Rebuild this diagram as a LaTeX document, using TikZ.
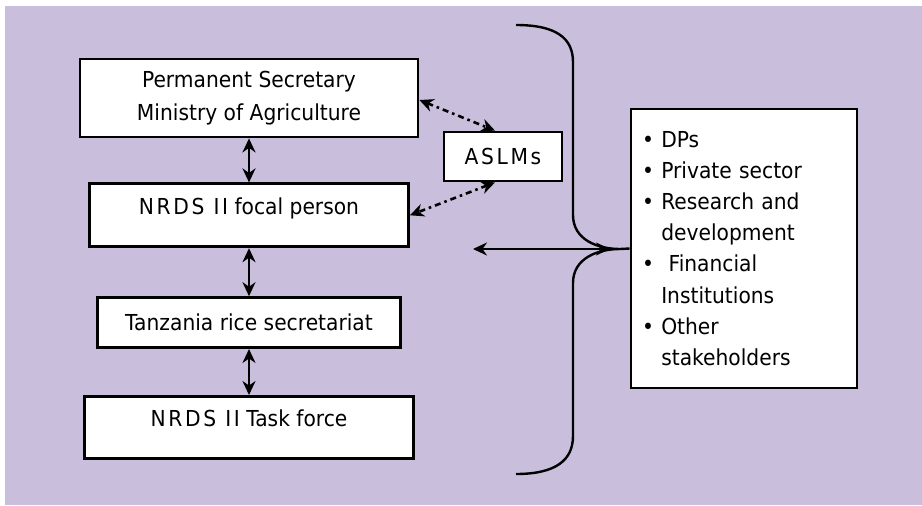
\documentclass[tikz,border=0pt]{standalone}
\usepackage{fontspec}
\setmainfont{DejaVu Sans}[FakeStretch=0.92]
\usetikzlibrary{arrows.meta,positioning}
\definecolor{lavender}{RGB}{201,191,220}
\newcommand{\lspaced}[1]{{\addfontfeature{LetterSpace=12}#1}}

\begin{document}
\begin{tikzpicture}[x=0.5pt,y=-0.5pt,
		font=\fontsize{11}{16.5}\selectfont,
		box/.style={draw,line width=1.4pt,fill=white,inner sep=0pt,align=center},
		lowbox/.style={box,text height=8.5pt,text depth=9pt},
		link/.style={line width=1.3pt,{Stealth[length=7pt,width=6.5pt]}-{Stealth[length=7pt,width=6.5pt]}},
		dotlink/.style={link,dash dot}]

	\useasboundingbox (0,0) rectangle (922,505);
	\fill[lavender] (5,6) rectangle (922,505);

	\node[box,minimum width=169pt,minimum height=39pt](ps) at (249,98) {Permanent Secretary\\Ministry of Agriculture};
	\node[lowbox,minimum width=159.5pt,minimum height=31.5pt,below=22pt of ps](focal){\lspaced{NRDS II} focal person};
	\node[box,minimum width=151.5pt,minimum height=25pt,below=24pt of focal](tanz){Tanzania rice secretariat};
	\node[lowbox,minimum width=164.5pt,minimum height=31pt,below=23pt of tanz](task){\lspaced{NRDS II} Task force};

	\node[box,minimum width=59pt,minimum height=24.5pt](aslm) at (503,156.5) {\lspaced{ASLMs}};

	\node[box,align=left,inner xsep=5.5pt,text width=102pt,minimum height=139.5pt,
		font=\fontsize{11}{15.6}\selectfont](others) at (744,248.5) {%
		\textbullet\ DPs\\
		\textbullet\ Private sector\\
		\textbullet\ Research and\\
		\phantom{\textbullet\ }development\\
		\textbullet\ \ Financial\\
		\phantom{\textbullet\ }Institutions\\
		\textbullet\ Other\\
		\phantom{\textbullet\ }stakeholders};

	% brace
	\coordinate (bracetop) at (516,25);
	\coordinate (bracetip) at (620,249);
	\coordinate (bracebot) at (516,474);
	\draw[line width=1.2pt] (bracetop) .. controls (556,25) and (573,38) .. (573,62) -- (573,215)
		.. controls (573,240) and (598,249) .. (bracetip)
		.. controls (598,249) and (573,258) .. (573,283) -- (573,436)
		.. controls (573,460) and (556,474) .. (bracebot);
	\draw[line width=1.2pt] (bracetip) -- (others.west);

	\coordinate (stakeleft) at (473,249);
	\coordinate (stakeright) at (610,249);

	\draw[link] (ps) -- (focal);
	\draw[link] (focal) -- (tanz);
	\draw[link] (tanz) -- (task);
	\draw[link] (stakeleft) -- (stakeright);

	\draw[dotlink] ([yshift=-1pt]ps.east) -- ([xshift=-4pt]aslm.north);
	\draw[dotlink] ([xshift=-4pt]aslm.south) -- (focal.east);

\end{tikzpicture}
\end{document}
